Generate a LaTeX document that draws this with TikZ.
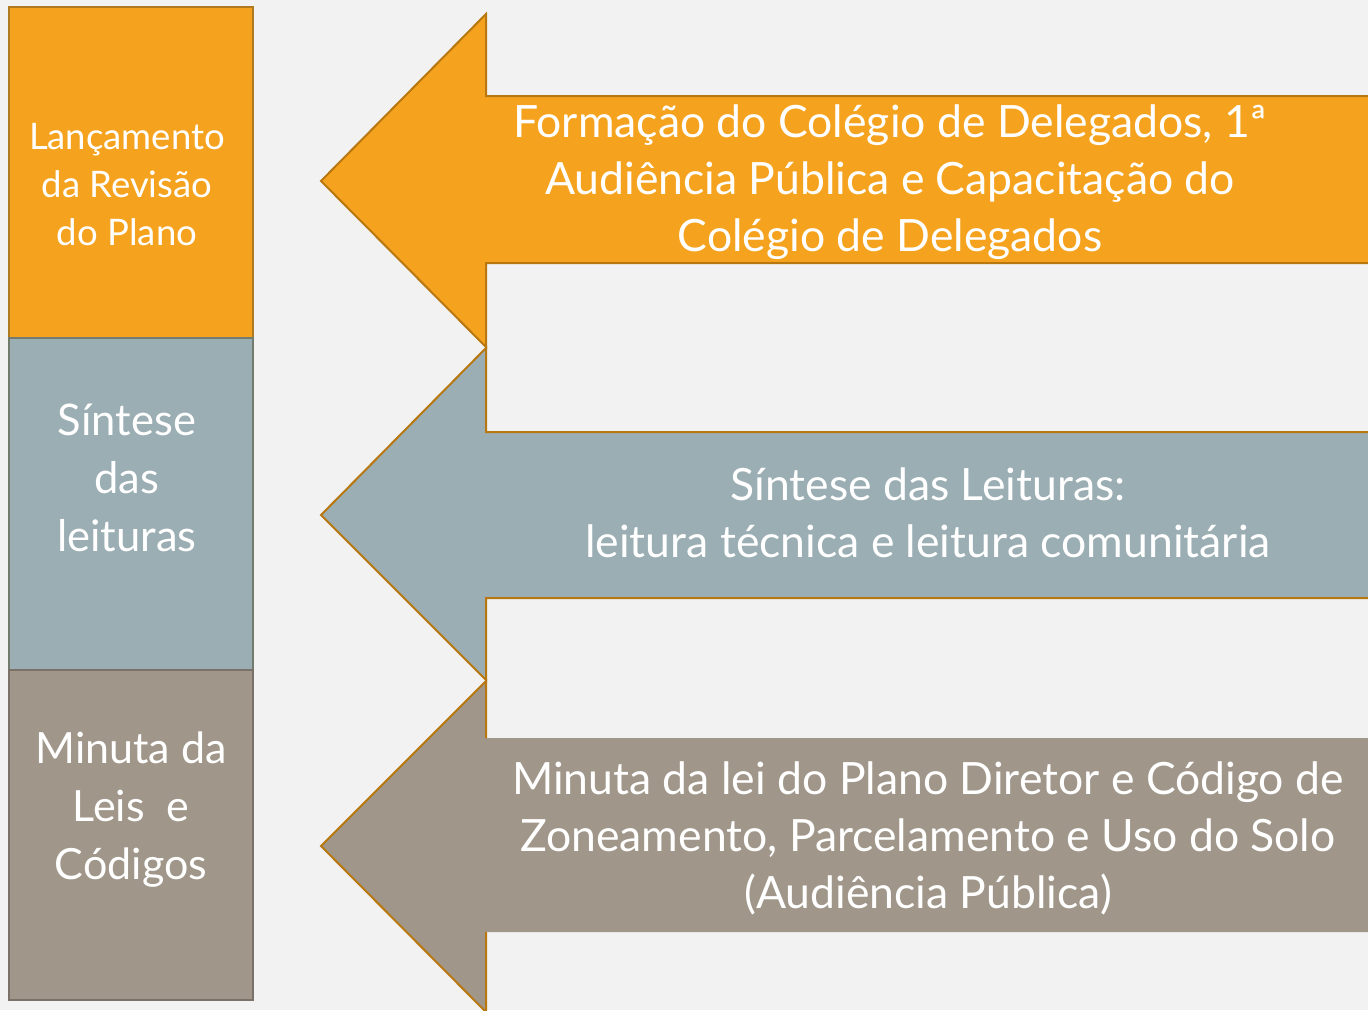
\documentclass[tikz,border=0pt]{standalone}
\usepackage{fontspec}
\setmainfont{Lato}
\definecolor{bg}{HTML}{F2F2F2}
\definecolor{orng}{HTML}{F5A31E}
\definecolor{bluegray}{HTML}{9BAEB3}
\definecolor{taupe}{HTML}{A0978A}
\definecolor{edge}{HTML}{B8770F}
\definecolor{edgeA}{HTML}{B07A20}
\definecolor{edgeB}{HTML}{737A6E}
\definecolor{edgeC}{HTML}{7A7268}
\tikzset{
  arrowtext/.style={text=white, align=center, font=\fontsize{44.5}{57}\selectfont},
  boxtext/.style={text=white, align=center},
  outline/.style={draw=edge, line width=2pt, line join=miter},
}
\begin{document}
\begin{tikzpicture}[x=1pt,y=-1pt]
\useasboundingbox (0,0) rectangle (1368,1010);
\fill[bg] (0,0) rectangle (1368,1010);
\clip (0,0) rectangle (1368,1010);
% left column
\draw[fill=orng, draw=edgeA, line width=2pt] (9,7) rectangle (253,338);
\draw[fill=bluegray, draw=edgeB, line width=2pt] (9,338) rectangle (253,670);
\draw[fill=taupe, draw=edgeC, line width=2pt] (9,670) rectangle (253,1000);
\node[boxtext, font=\fontsize{36.5}{48}\selectfont] (b1) at (127,185) {Lançamento\\da Revisão\\do Plano};
\node[boxtext, font=\fontsize{43.5}{58}\selectfont] (b2) at (127,478) {Síntese\\das\\leituras};
\node[boxtext, font=\fontsize{43}{58}\selectfont] (b3) at (131,810) {Minuta da\\Leis\ \ e\\Códigos};
% arrow 1
\draw[outline, fill=orng] (321,181) -- (486,14) -- (486,96) -- (1372,96) -- (1372,263) -- (486,263) -- (486,347) -- cycle;
\node[arrowtext] (a1) at (890,182) {Formação do Colégio de Delegados, 1ª\\Audiência Pública e Capacitação do\\Colégio de Delegados};
% arrow 2
\draw[outline, fill=bluegray] (321,515) -- (486,348) -- (486,432) -- (1372,432) -- (1372,598) -- (486,598) -- (486,680) -- cycle;
\node[arrowtext] (a2) at (928,513) {Síntese das Leituras:\\leitura técnica e leitura comunitária};
% arrow 3
\fill[taupe] (321,846) -- (486,681) -- (486,738) -- (1372,738) -- (1372,932) -- (486,932) -- (486,1012) -- cycle;
\draw[outline] (486,738) -- (486,681) -- (321,846) -- (486,1012) -- (486,932);
\node[arrowtext] (a3) at (928,838) {Minuta da lei do Plano Diretor e Código de\\Zoneamento, Parcelamento e Uso do Solo\\(Audiência Pública)};
\end{tikzpicture}
\end{document}
